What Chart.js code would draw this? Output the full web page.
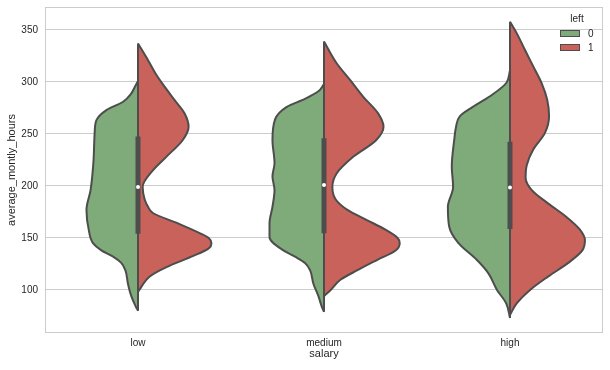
<!DOCTYPE html>
<html>
<head>
<meta charset="utf-8">
<script src="https://cdn.jsdelivr.net/npm/chart.js@4/dist/chart.umd.min.js"></script>
<style>
  body { margin: 0; background: #fff; }
  #wrap { position: relative; width: 610px; height: 370px; font-family: "Liberation Sans", Arial, sans-serif; color: #262626; }
  .lg-title { position: absolute; left: 566px; top: 13px; width: 22px; text-align: center; font-size: 10px; }
  .lg-box { position: absolute; left: 560px; width: 18px; height: 5px; border: 1px solid #4d4d4d; }
  .lg-text { position: absolute; left: 588px; font-size: 10px; }
</style>
</head>
<body>
<div id="wrap">
  <canvas id="MyChart" width="610" height="370"></canvas>
  <div class="lg-title">left</div>
  <div class="lg-box" style="top:30px;background:#7faa7a"></div>
  <div class="lg-text" style="top:28px">0</div>
  <div class="lg-box" style="top:44px;background:#c8625a"></div>
  <div class="lg-text" style="top:42px">1</div>
</div>
<script>
const categories = ["low", "medium", "high"];
const yTicks = [100, 150, 200, 250, 300, 350];

// violin outlines: hours and half-width (in category units)
const lowStayHours = [301, 295, 289, 281, 273, 263, 251, 222, 196, 177, 158, 145, 138, 132, 126, 119, 106, 94, 84, 80];
const lowStayWidth = [0, .018, .036, .08, .17, .224, .233, .24, .255, .277, .265, .242, .197, .134, .09, .068, .054, .036, .012, 0];
const lowLeftHours = [337, 321, 308, 295, 283, 270, 257, 244, 228, 215, 199, 187, 180, 174, 164, 154, 150, 145, 140, 132, 122, 113, 103, 98];
const lowLeftWidth = [0, .054, .095, .145, .195, .25, .272, .24, .152, .08, .025, .036, .054, .08, .215, .34, .38, .395, .38, .287, .153, .063, .018, 0];

const medStayHours = [298, 291, 284, 276, 264, 244, 222, 209, 196, 180, 164, 151, 138, 132, 126, 119, 106, 94, 84, 79];
const medStayWidth = [0, .03, .1, .2, .263, .277, .266, .277, .266, .277, .293, .293, .218, .156, .102, .075, .057, .03, .012, 0];
const medLeftHours = [339, 318, 302, 286, 270, 257, 244, 228, 212, 199, 187, 177, 167, 158, 150, 145, 138, 129, 119, 110, 100, 94];
const medLeftWidth = [0, .068, .14, .21, .29, .32, .28, .157, .068, .045, .063, .126, .233, .33, .396, .407, .385, .287, .18, .09, .036, 0];

const highStayHours = [311, 299, 286, 276, 267, 257, 244, 219, 199, 180, 161, 145, 129, 116, 100, 87, 73];
const highStayWidth = [0, .02, .11, .2, .27, .29, .3, .313, .306, .334, .327, .277, .179, .116, .07, .02, 0];
const highLeftHours = [358, 347, 331, 315, 299, 283, 267, 251, 235, 220, 208, 196, 183, 170, 158, 148, 138, 126, 113, 100, 87, 76];
const highLeftWidth = [0, .036, .08, .125, .17, .2, .21, .188, .125, .09, .084, .117, .206, .305, .376, .403, .389, .313, .206, .108, .036, 0];

const quartile1 = [154, 154.5, 158.5];
const medians = [199, 201, 198.5];
const quartile3 = [247.5, 246, 242.5];

const stayHours = [lowStayHours, medStayHours, highStayHours];
const stayWidth = [lowStayWidth, medStayWidth, highStayWidth];
const leftHours = [lowLeftHours, medLeftHours, highLeftHours];
const leftWidth = [lowLeftWidth, medLeftWidth, highLeftWidth];

const GREEN = "#7faa7a";
const RED = "#c8625a";
const EDGE = "#4d4d4d";

function half(ci, hours, widths, side, color) {
    return {
        data: hours.map((h, i) => ({ x: ci + side * widths[i], y: h })),
        indexAxis: "y",
        fill: { value: ci },
        backgroundColor: color,
        borderColor: EDGE,
        borderWidth: 2,
        cubicInterpolationMode: "monotone",
        pointRadius: 0,
        order: 4
    };
}

const datasets = [];
categories.forEach((c, ci) => {
    datasets.push(half(ci, stayHours[ci], stayWidth[ci], -1, GREEN));
    datasets.push(half(ci, leftHours[ci], leftWidth[ci], 1, RED));
    const top = Math.max(stayHours[ci][0], leftHours[ci][0]);
    const bottom = Math.min(stayHours[ci][stayHours[ci].length - 1], leftHours[ci][leftHours[ci].length - 1]);
    datasets.push({
        data: [{ x: ci, y: top }, { x: ci, y: bottom }],
        indexAxis: "y", borderColor: EDGE, borderWidth: 2, pointRadius: 0, fill: false, order: 3
    });
    datasets.push({
        data: [{ x: ci, y: quartile3[ci] }, { x: ci, y: quartile1[ci] }],
        indexAxis: "y", borderColor: EDGE, borderWidth: 5, borderCapStyle: "butt", pointRadius: 0, fill: false, order: 2
    });
    datasets.push({
        data: [{ x: ci, y: medians[ci] }],
        indexAxis: "y", showLine: false, pointRadius: 2, pointBorderWidth: 0,
        pointBackgroundColor: "#ffffff", order: 1
    });
});

const frame = {
    id: "frame",
    beforeDatasetsDraw(chart) {
        const a = chart.chartArea, ctx = chart.ctx;
        ctx.save();
        ctx.strokeStyle = "#cccccc";
        ctx.lineWidth = 1;
        ctx.strokeRect(a.left + 0.5, a.top + 0.5, a.right - a.left - 1, a.bottom - a.top - 1);
        ctx.restore();
    }
};

const ctx = document.getElementById("MyChart").getContext("2d");

new Chart(ctx, {
    type: "line",
    data: { datasets: datasets },
    plugins: [frame],
    options: {
        responsive: false,
        animation: false,
        indexAxis: "y",
        events: [],
        layout: { padding: { top: 7, right: 7, left: 0, bottom: 0 } },
        plugins: { legend: { display: false }, tooltip: { enabled: false } },
        scales: {
            x: {
                type: "linear",
                position: "bottom",
                min: -0.5,
                max: 2.5,
                afterBuildTicks: s => { s.ticks = categories.map((c, i) => ({ value: i })); },
                afterFit: s => { s.height = 37; s.paddingLeft = 0; s.paddingRight = 0; },
                grid: { display: false, drawTicks: false },
                border: { display: false },
                ticks: {
                    callback: v => categories[v],
                    font: { family: "Liberation Sans", size: 10 },
                    color: "#262626",
                    padding: 4,
                    maxRotation: 0
                },
                title: {
                    display: true,
                    text: "salary",
                    font: { family: "Liberation Sans", size: 11 },
                    color: "#262626",
                    padding: { top: 0, bottom: 9 }
                }
            },
            y: {
                type: "linear",
                position: "left",
                min: 58.6,
                max: 372.1,
                afterBuildTicks: s => { s.ticks = yTicks.map(v => ({ value: v })); },
                afterFit: s => { s.width = 45; s.paddingTop = 0; s.paddingBottom = 0; },
                grid: { color: "#cccccc", lineWidth: 1, drawTicks: false },
                border: { display: false },
                ticks: {
                    font: { family: "Liberation Sans", size: 10 },
                    color: "#262626",
                    padding: 7
                },
                title: {
                    display: true,
                    text: "average_montly_hours",
                    font: { family: "Liberation Sans", size: 11 },
                    color: "#262626",
                    padding: { top: 5, bottom: 0 }
                }
            }
        }
    }
});
</script>
</body>
</html>
